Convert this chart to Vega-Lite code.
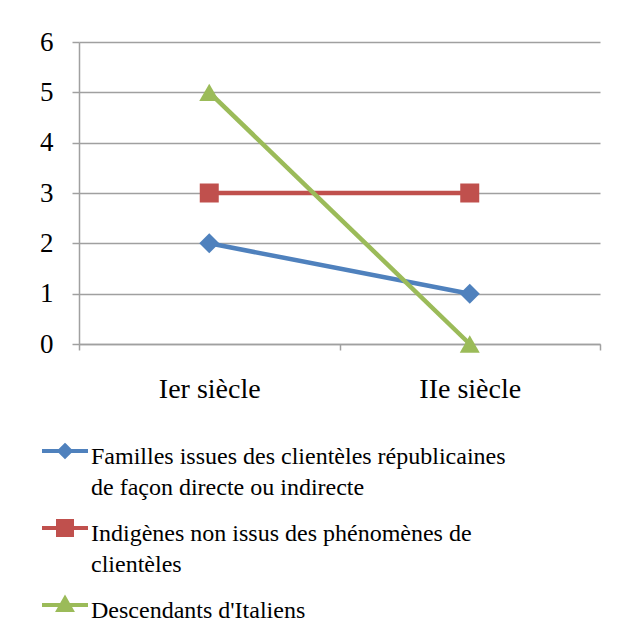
{
  "$schema": "https://vega.github.io/schema/vega-lite/v6.json",
  "autosize": "none",
  "width": 521,
  "height": 302,
  "padding": {"left": 79, "top": 42, "right": 17, "bottom": 292},
  "background": "white",
  "config": {
    "view": {"stroke": null},
    "font": "Liberation Serif"
  },
  "data": {
    "values": [
      {"serie": "Familles issues des clientèles républicaines de façon directe ou indirecte", "siecle": "Ier siècle", "valeur": 2},
      {"serie": "Familles issues des clientèles républicaines de façon directe ou indirecte", "siecle": "IIe siècle", "valeur": 1},
      {"serie": "Indigènes non issus des phénomènes de clientèles", "siecle": "Ier siècle", "valeur": 3},
      {"serie": "Indigènes non issus des phénomènes de clientèles", "siecle": "IIe siècle", "valeur": 3},
      {"serie": "Descendants d'Italiens", "siecle": "Ier siècle", "valeur": 5},
      {"serie": "Descendants d'Italiens", "siecle": "IIe siècle", "valeur": 0}
    ]
  },
  "encoding": {
    "x": {
      "field": "siecle", "type": "nominal", "sort": ["Ier siècle", "IIe siècle"],
      "scale": {"type": "band", "paddingInner": 0, "paddingOuter": 0},
      "axis": {
        "title": null, "grid": false, "tickBand": "extent", "tickSize": 6, "tickColor": "#a0a0a0", "tickWidth": 1.5,
        "domainColor": "#a0a0a0", "domainWidth": 1.5, "labelAngle": 0,
        "labelFont": "Liberation Serif", "labelFontSize": 28, "labelColor": "black", "labelPadding": 25
      }
    },
    "y": {
      "field": "valeur", "type": "quantitative",
      "scale": {"domain": [0, 6], "nice": false},
      "axis": {
        "title": null, "values": [0, 1, 2, 3, 4, 5, 6], "grid": true, "gridColor": "#a0a0a0", "gridWidth": 1.5,
        "tickSize": 7, "tickColor": "#a0a0a0", "tickWidth": 1.5, "domainColor": "#a0a0a0", "domainWidth": 1.5,
        "labelFont": "Liberation Serif", "labelFontSize": 27, "labelColor": "black", "labelPadding": 19
      }
    },
    "color": {
      "field": "serie", "type": "nominal",
      "scale": {
        "domain": ["Familles issues des clientèles républicaines de façon directe ou indirecte", "Indigènes non issus des phénomènes de clientèles", "Descendants d'Italiens"],
        "range": ["#4F81BD", "#C0504D", "#9BBB59"]
      },
      "legend": {
        "orient": "none", "legendX": -26, "legendY": 397, "direction": "vertical", "title": null, "padding": 0,
        "labelFont": "Liberation Serif", "labelFontSize": 24, "labelColor": "black", "labelLimit": 0,
        "labelBaseline": "top", "labelOffset": 14, "rowPadding": 13, "symbolSize": 400,
        "labelExpr": "split(replace(replace(datum.label, ' républicaines ', ' républicaines|'), 'phénomènes de ', 'phénomènes de|'), '|')",
        "encode": {
          "symbols": {"update": {
            "shape": {"signal": "['M-2.3,0H2.3M0,-0.55L0.55,0L0,0.55L-0.55,0Z','M-2.3,0H2.3M-0.7,-0.7H0.7V0.7H-0.7Z','M-2.3,0H2.3M0,-0.65L0.65,0.5L-0.65,0.5Z'][datum.index]"},
            "fill": {"scale": "color", "field": "value"},
            "stroke": {"scale": "color", "field": "value"},
            "strokeWidth": {"value": 4},
            "size": {"value": 400},
            "opacity": {"value": 1}
          }},
          "labels": {"update": {
            "dy": {"value": -6}, "lineHeight": {"value": 31},
            "font": {"value": "Liberation Serif"}, "fontSize": {"value": 24}, "fill": {"value": "black"}
          }}
        }
      }
    }
  },
  "layer": [
    {"mark": {"type": "line", "strokeWidth": 4.5}},
    {
      "transform": [{"filter": "datum.serie === 'Familles issues des clientèles républicaines de façon directe ou indirecte'"}],
      "mark": {"type": "point", "filled": true, "opacity": 1, "size": 400, "shape": "diamond"}
    },
    {
      "transform": [{"filter": "datum.serie === 'Indigènes non issus des phénomènes de clientèles'"}],
      "mark": {"type": "point", "filled": true, "opacity": 1, "size": 361, "shape": "square"}
    },
    {
      "transform": [{"filter": "datum.serie === \"Descendants d'Italiens\""}],
      "mark": {"type": "point", "filled": true, "opacity": 1, "size": 400, "shape": "triangle-up"}
    }
  ]
}
